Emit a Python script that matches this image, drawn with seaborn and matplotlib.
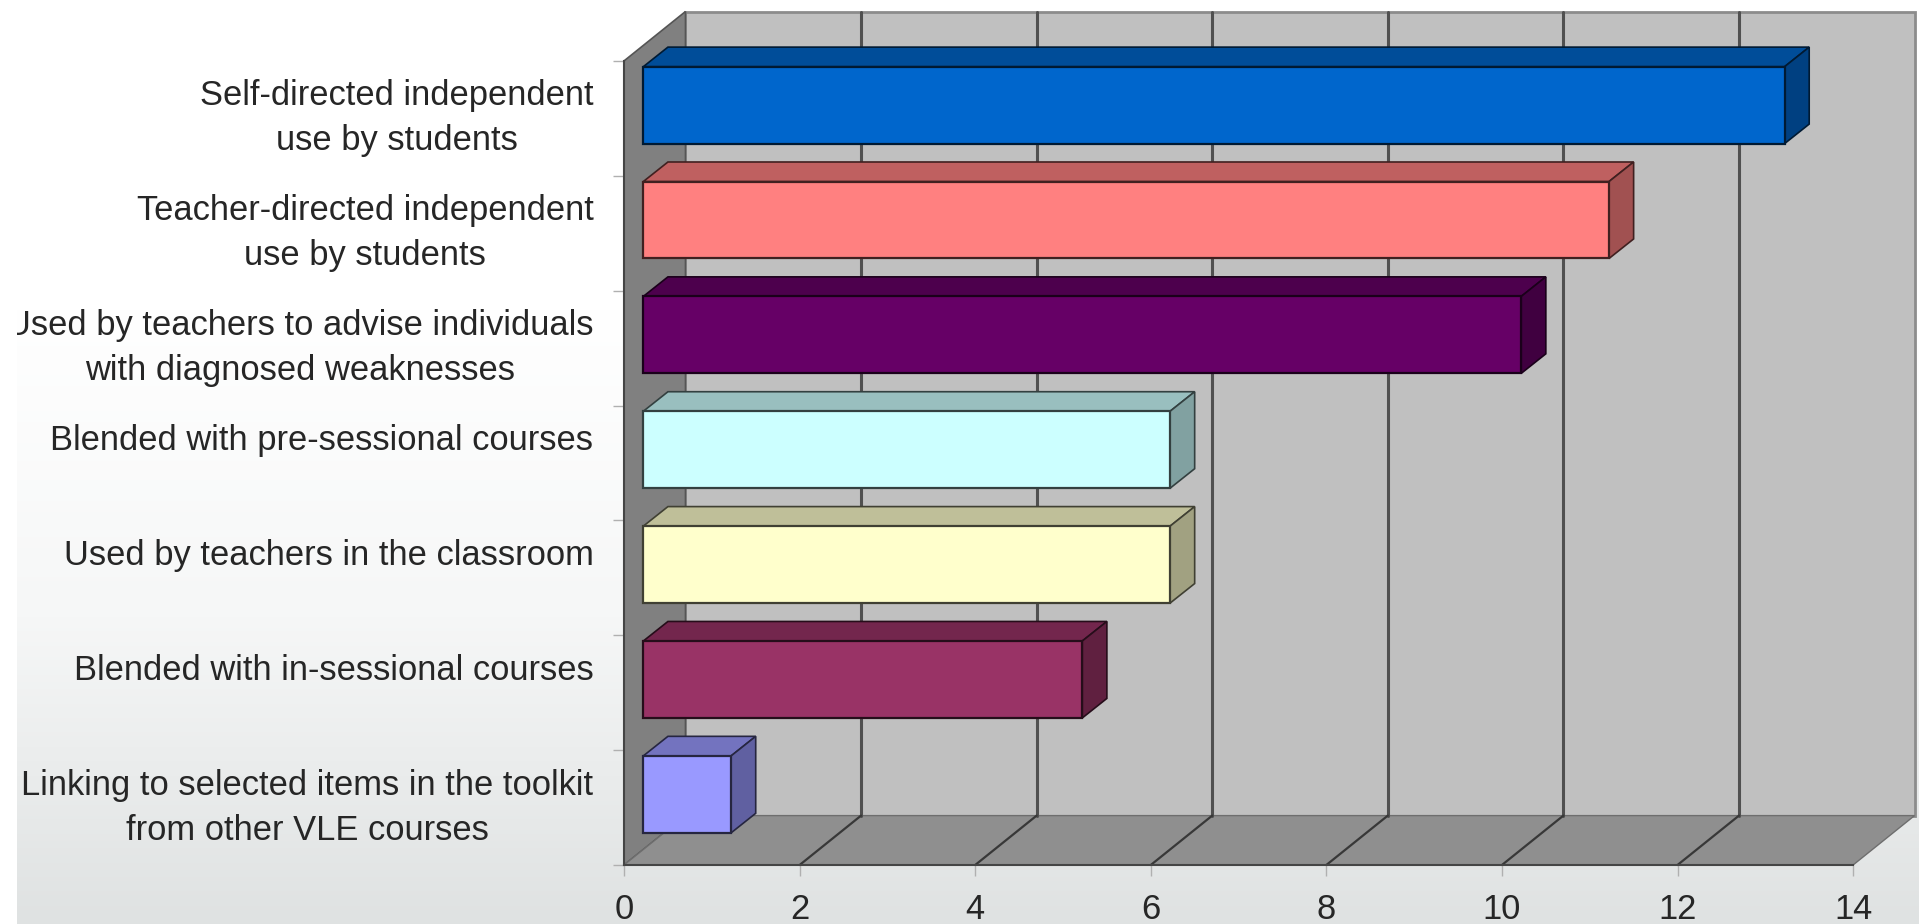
import numpy as np
import matplotlib
matplotlib.use('Agg')
import matplotlib.pyplot as plt
from matplotlib.colors import LinearSegmentedColormap, to_rgb
from matplotlib.patches import Polygon
from matplotlib.transforms import Bbox
import seaborn as sns

categories = ['Self-directed independent\nuse by students',
              'Teacher-directed independent\nuse by students',
              'Used by teachers to advise individuals\nwith diagnosed weaknesses',
              'Blended with pre-sessional courses',
              'Used by teachers in the classroom',
              'Blended with in-sessional courses',
              'Linking to selected items in the toolkit\nfrom other VLE courses']
values = [13, 11, 10, 6, 6, 5, 1]
bar_colors = ['#0066CC', '#FF8080', '#660066', '#CCFFFF', '#FFFFCC', '#993366', '#9999FF']
x_ticks = [0, 2, 4, 6, 8, 10, 12, 14]

# depth of the fake 3d box, in data units
wall_dx, wall_dy = 0.70, 0.43
bar_dx, bar_dy = 0.28, 0.17
shift_x, shift_y = 0.22, 0.115
font = ['Liberation Sans', 'DejaVu Sans']


def shade(color, k):
    return tuple(c * k for c in to_rgb(color))


sns.set_theme(style='white')
plt.rcParams['font.family'] = font

W, H = 1919, 924
fig = plt.figure(figsize=(W / 100 + 0.001, H / 100 + 0.001), dpi=100, facecolor='white')

# page background fades to grey towards the bottom
bg = fig.add_axes([17 / W, 0, 1 - 17 / W, 1], zorder=0)
cmap = LinearSegmentedColormap.from_list('page', ['#ffffff', '#ffffff', '#f6f7f7', '#dfe2e2'])
bg.imshow(np.linspace(0, 1, 256).reshape(-1, 1), aspect='auto', cmap=cmap)
bg.axis('off')

left, right, top, bottom = 624, 1853, 61, 865
ax = fig.add_axes([left / W, 1 - bottom / H, (right - left) / W, (bottom - top) / H], zorder=1)
ax.patch.set_alpha(0)

sns.barplot(x=values, y=categories, hue=categories, palette=bar_colors, legend=False,
            width=0.67, saturation=1, ax=ax, zorder=5)

ax.set_xlim(0, 14)
ax.set_ylim(6.5, -0.5)
y0, y1 = -0.5, 6.5

# box walls
ax.add_patch(Polygon([(wall_dx, y0 - wall_dy), (14 + wall_dx, y0 - wall_dy),
                      (14 + wall_dx, y1 - wall_dy), (wall_dx, y1 - wall_dy)],
                     fc='#c0c0c0', ec='#8c8c8c', lw=2, clip_on=False, zorder=1))
ax.add_patch(Polygon([(0, y0), (wall_dx, y0 - wall_dy), (wall_dx, y1 - wall_dy), (0, y1)],
                     fc='#808080', ec='#555555', lw=1.2, clip_on=False, zorder=1.5))
ax.add_patch(Polygon([(0, y1), (wall_dx, y1 - wall_dy), (14 + wall_dx, y1 - wall_dy), (14, y1)],
                     fc='#8f8f8f', ec='#6e6e6e', lw=1, clip_on=False, zorder=1.5))
for t in x_ticks[1:-1]:
    ax.plot([t + wall_dx, t + wall_dx], [y0 - wall_dy, y1 - wall_dy], color='#505050', lw=2.2,
            clip_on=False, zorder=2)
    ax.plot([t, t + wall_dx], [y1, y1 - wall_dy], color='#383838', lw=1.6, clip_on=False, zorder=2)

# bars: move the front face into the box, then add top and side faces
for patch, color in zip(ax.patches[:len(values)], bar_colors):
    patch.set_x(patch.get_x() + shift_x)
    patch.set_y(patch.get_y() - shift_y)
    edge = shade(color, 0.25)
    patch.set_edgecolor(edge)
    patch.set_linewidth(1.6)
    x0 = patch.get_x()
    x1 = x0 + patch.get_width()
    yt = patch.get_y()
    yb = yt + patch.get_height()
    ax.add_patch(Polygon([(x0, yt), (x0 + bar_dx, yt - bar_dy), (x1 + bar_dx, yt - bar_dy), (x1, yt)],
                         fc=shade(color, 0.75), ec=edge, lw=1.2, clip_on=False, zorder=4))
    ax.add_patch(Polygon([(x1, yt), (x1 + bar_dx, yt - bar_dy), (x1 + bar_dx, yb - bar_dy), (x1, yb)],
                         fc=shade(color, 0.63), ec=edge, lw=1.2, clip_on=False, zorder=4))

for side in ['top', 'right']:
    ax.spines[side].set_visible(False)
for side in ['left', 'bottom']:
    ax.spines[side].set_color('#454545')
    ax.spines[side].set_linewidth(1.5)
    ax.spines[side].set_zorder(3)

ax.set_xticks(x_ticks)
ax.set_xticklabels([str(t) for t in x_ticks])
ax.set_yticks(range(len(categories)))
# one-line labels sit where the first line of a two-line label would be
ax.set_yticklabels([c if '\n' in c else c + '\n' for c in categories])
ax.set_yticks(np.arange(-0.5, 7), minor=True)
ax.set_xlabel('')
ax.set_ylabel('')
ax.tick_params(axis='y', which='major', length=0, pad=22, labelsize=24.85, labelcolor='#262626')
ax.tick_params(axis='y', which='minor', left=True, length=8, width=1, color='#b0b0b0')
ax.tick_params(axis='x', which='major', bottom=True, length=8, width=1, color='#b0b0b0',
               pad=12, labelsize=24.85, labelcolor='#262626')

clip = Bbox([[17, 0], [W, H]])
for label in ax.get_yticklabels():
    label.set_multialignment('center')
    label.set_verticalalignment('center')
    label.set_linespacing(1.46)
    label.set_clip_box(clip)
    label.set_clip_on(True)

fig.savefig('out.png', dpi=100)
